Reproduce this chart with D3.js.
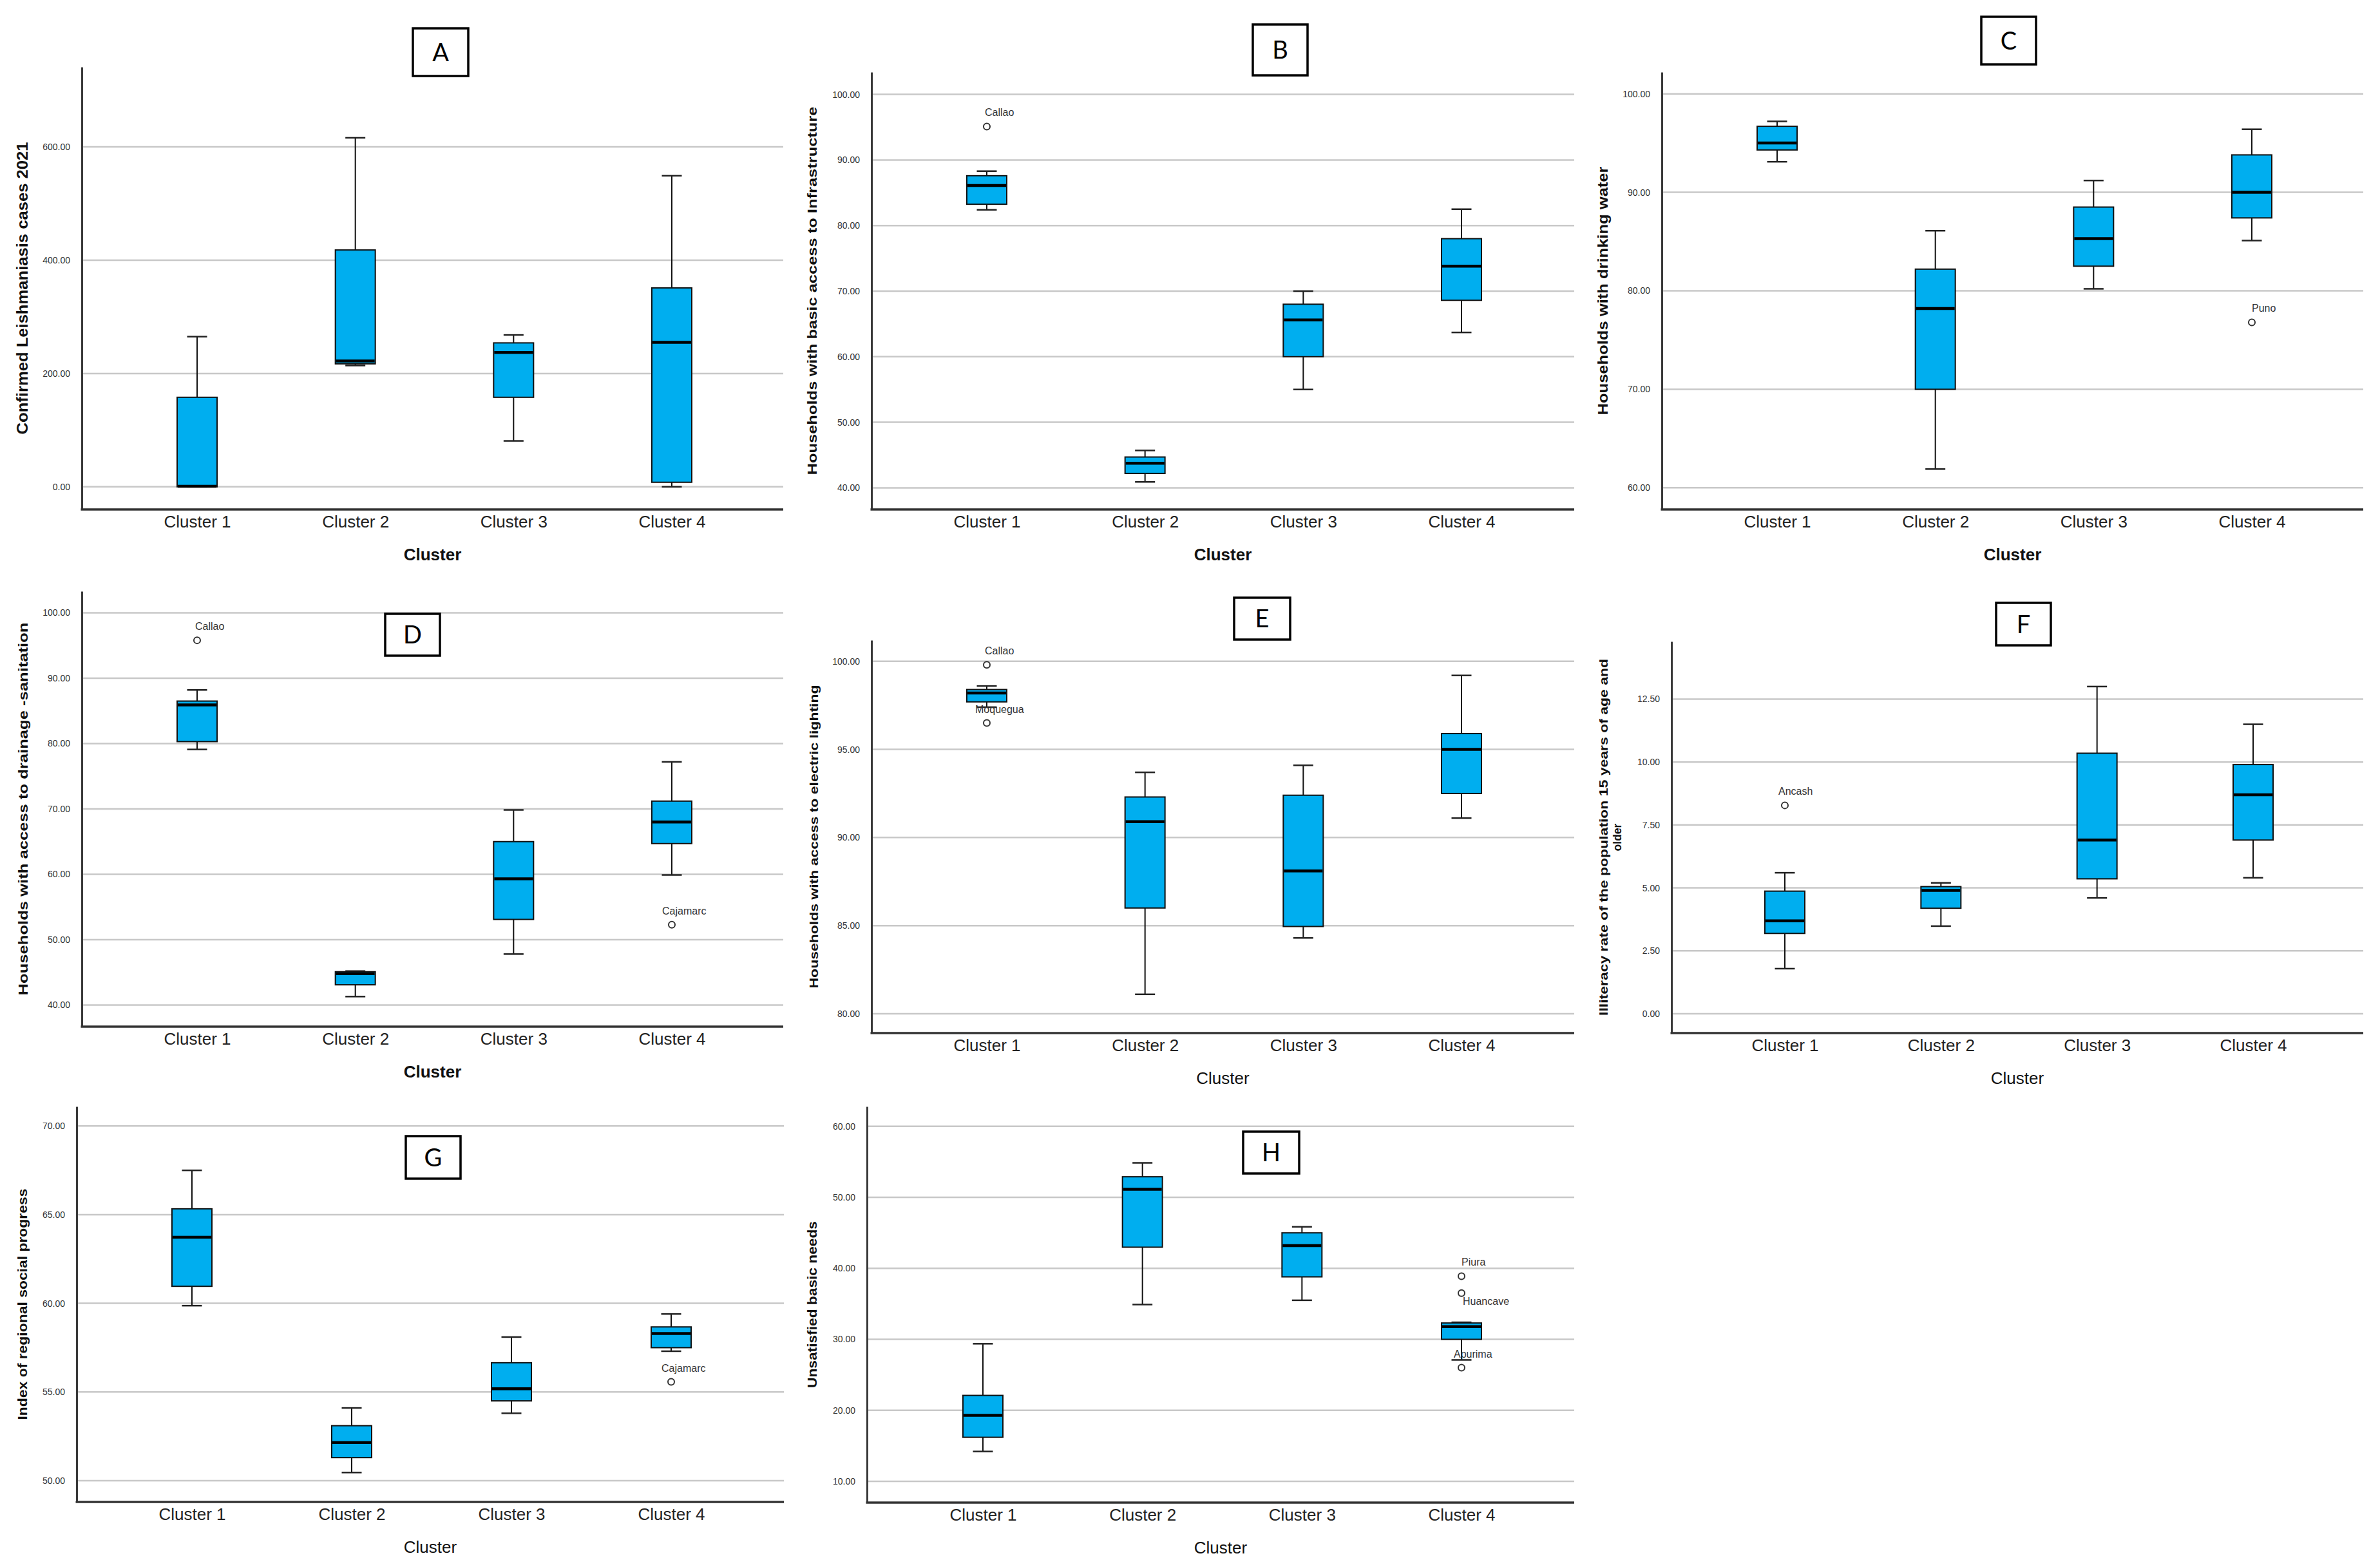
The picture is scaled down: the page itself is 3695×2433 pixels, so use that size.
<!DOCTYPE html>
<html>
<head>
<meta charset="utf-8">
<script src="https://cdn.jsdelivr.net/npm/d3@7"></script>
<style>
  body { margin: 0; background: #fff; }
</style>
</head>
<body>
<div id="chart"></div>
<script>
/**********************************************************************/
// DATA:
/**********************************************************************/

const clusters = ["Cluster 1", "Cluster 2", "Cluster 3", "Cluster 4"];
const panelIds = ["A", "B", "C", "D", "E", "F", "G", "H"];

const yTitles = [
    ["Confirmed Leishmaniasis cases 2021"],
    ["Households with basic access to Infrastructure"],
    ["Households with drinking water"],
    ["Households with access to drainage -sanitation"],
    ["Households with access to electric lighting"],
    ["Illiteracy rate of the population 15 years of age and", "older"],
    ["Index of regional social progress"],
    ["Unsatisfied basic needs"]
];

// tick values per panel
const ticksA = [0, 200, 400, 600];
const ticksB = [40, 50, 60, 70, 80, 90, 100];
const ticksC = [60, 70, 80, 90, 100];
const ticksD = [40, 50, 60, 70, 80, 90, 100];
const ticksE = [80, 85, 90, 95, 100];
const ticksF = [0, 2.5, 5, 7.5, 10, 12.5];
const ticksG = [50, 55, 60, 65, 70];
const ticksH = [10, 20, 30, 40, 50, 60];

// box stats per cluster: [min, q1, median, q3, max]
const statsA = [[0, 0, 1, 158, 265], [214, 217, 222, 418, 616], [81, 158, 237, 254, 268], [0, 8, 255, 351, 549]];
const statsB = [[82.4, 83.25, 86.1, 87.6, 88.3], [40.9, 42.2, 43.75, 44.7, 45.7], [55.0, 60.0, 65.6, 68.0, 70.0], [63.7, 68.6, 73.8, 78.0, 82.5]];
const statsC = [[93.1, 94.3, 95.0, 96.7, 97.2], [61.9, 70.0, 78.2, 82.2, 86.1], [80.2, 82.5, 85.3, 88.5, 91.2], [85.1, 87.4, 90.0, 93.8, 96.4]];
const statsD = [[79.1, 80.3, 85.9, 86.5, 88.2], [41.3, 43.1, 44.8, 45.1, 45.2], [47.8, 53.1, 59.3, 65.0, 69.85], [59.9, 64.7, 68.0, 71.2, 77.2]];
const statsE = [[97.4, 97.7, 98.2, 98.4, 98.6], [81.1, 86.0, 90.9, 92.3, 93.7], [84.3, 84.95, 88.1, 92.4, 94.1], [91.1, 92.5, 95.0, 95.9, 99.2]];
const statsF = [[1.79, 3.19, 3.69, 4.87, 5.6], [3.48, 4.19, 4.9, 5.05, 5.2], [4.6, 5.36, 6.9, 10.35, 13.0], [5.4, 6.9, 8.7, 9.9, 11.5]];
const statsG = [[59.87, 60.96, 63.73, 65.33, 67.5], [50.46, 51.3, 52.15, 53.1, 54.1], [53.8, 54.5, 55.18, 56.65, 58.1], [57.3, 57.5, 58.3, 58.67, 59.4]];
const statsH = [[14.2, 16.2, 19.3, 22.1, 29.38], [34.9, 42.98, 51.15, 52.9, 54.86], [35.5, 38.8, 43.2, 45.0, 45.85], [27.1, 30.0, 31.8, 32.3, 32.4]];

// outliers: [cluster index, value, label]
const outliersA = [];
const outliersB = [[0, 95.1, "Callao"]];
const outliersC = [[3, 76.8, "Puno"]];
const outliersD = [[0, 95.8, "Callao"], [3, 52.3, "Cajamarc"]];
const outliersE = [[0, 99.8, "Callao"], [0, 96.5, "Moquegua"]];
const outliersF = [[0, 8.28, "Ancash"]];
const outliersG = [[3, 55.57, "Cajamarc"]];
const outliersH = [[3, 38.9, "Piura"], [3, 36.5, "Huancave"], [3, 26.0, "Apurima"]];

const allTicks = [ticksA, ticksB, ticksC, ticksD, ticksE, ticksF, ticksG, ticksH];
const allStats = [statsA, statsB, statsC, statsD, statsE, statsF, statsG, statsH];
const allOutliers = [outliersA, outliersB, outliersC, outliersD, outliersE, outliersF, outliersG, outliersH];

/**********************************************************************/
// LAYOUT:
/**********************************************************************/

const svgWidth = 3695;
const svgHeight = 2433;

// x0/x1: axis extent, y0/y1: top / x-axis, cx: first & last cluster center
const layout = [
    {x0: 127,  x1: 1216, y0: 104,  y1: 791,  dom: [-40, 741],    cx: [306, 1043],  tx: [35],         fs: 23,   tl: 454, box: [641, 44, 86, 74],   bold: true},
    {x0: 1353, x1: 2444, y0: 112,  y1: 791,  dom: [36.7, 103.4], cx: [1532, 2269], tx: [1261],       fs: 21,   tl: 572, box: [1945, 38, 85, 79],  bold: true},
    {x0: 2580, x1: 3669, y0: 112,  y1: 791,  dom: [57.8, 102.2], cx: [2759, 3496], tx: [2488],       fs: 22,   tl: 386, box: [3076, 26, 85, 74],  bold: true},
    {x0: 127,  x1: 1216, y0: 918,  y1: 1594, dom: [36.7, 103.3], cx: [306, 1043],  tx: [36],         fs: 21,   tl: 579, box: [598, 953, 85, 65],  bold: true},
    {x0: 1353, x1: 2444, y0: 994,  y1: 1604, dom: [78.9, 101.2], cx: [1532, 2269], tx: [1263],       fs: 19,   tl: 471, box: [1916, 928, 87, 65], bold: false},
    {x0: 2595, x1: 3669, y0: 996,  y1: 1604, dom: [-0.77, 14.79], cx: [2771, 3498], tx: [2490, 2511], fs: 17.5, tl: 554, box: [3099, 936, 85, 66], bold: false},
    {x0: 119,  x1: 1217, y0: 1718, y1: 2332, dom: [48.8, 71.1],  cx: [298, 1042],  tx: [35],         fs: 19.5, tl: 359, box: [630, 1764, 85, 66], bold: false},
    {x0: 1346, x1: 2444, y0: 1718, y1: 2333, dom: [7.0, 62.8],   cx: [1526, 2269], tx: [1261],       fs: 19.5, tl: 259, box: [1930, 1757, 87, 65], bold: false}
];

// outlier label offsets (dx, dy) from point
const labelOffset = {
    "Callao": [-3, -16], "Puno": [0, -16], "Cajamarc": [-15, -16], "Moquegua": [-18, -16],
    "Ancash": [-10, -16], "Piura": [0, -16], "Huancave": [2, 18], "Apurima": [-12, -16]
};

const boxFill = "#00aeef";
const boxWidth = 62;
const capWidth = 31;
const narrow = "'Liberation Sans Narrow', 'Arial Narrow', 'Liberation Sans', Arial, sans-serif";

/**********************************************************************/
// DRAW:
/**********************************************************************/

let svg = d3.select('#chart')
            .append('svg')
            .attr('width', svgWidth)
            .attr('height', svgHeight)
            .style('background', '#fff');

panelIds.forEach(function(id, i) {
    const L = layout[i];
    const g = svg.append('g').attr('class', 'panel-' + id);

    let yScale = d3.scaleLinear().domain(L.dom).range([L.y1, L.y0]);
    let xScale = d3.scalePoint().domain(clusters).range(L.cx);

    // gridlines
    g.selectAll('line.grid')
     .data(allTicks[i])
     .join('line')
     .attr('class', 'grid')
     .attr('x1', L.x0).attr('x2', L.x1)
     .attr('y1', d => yScale(d)).attr('y2', d => yScale(d))
     .attr('stroke', '#c8c8c8')
     .attr('stroke-width', 2.5);

    // y axis
    let leftAxis = d3.axisLeft(yScale)
                     .tickValues(allTicks[i])
                     .tickFormat(d3.format('.2f'))
                     .tickSize(0)
                     .tickSizeOuter(0)
                     .tickPadding(18);
    let yAxis = g.append('g')
                 .attr('transform', `translate(${L.x0}, 0)`)
                 .call(leftAxis);
    yAxis.select('.domain').attr('stroke', '#3a3a3a').attr('stroke-width', 3);
    yAxis.selectAll('text')
         .attr('font-family', narrow)
         .attr('font-size', 14)
         .attr('fill', '#333');

    // x axis
    let bottomAxis = d3.axisBottom(xScale).tickSize(0).tickSizeOuter(0).tickPadding(10);
    let xAxis = g.append('g')
                 .attr('transform', `translate(0, ${L.y1})`)
                 .call(bottomAxis);
    xAxis.select('.domain').remove();
    xAxis.append('line')
         .attr('x1', L.x0 - 1.5).attr('x2', L.x1)
         .attr('stroke', '#333').attr('stroke-width', 3.5);
    xAxis.selectAll('text')
         .attr('font-family', narrow)
         .attr('font-size', 26)
         .attr('fill', '#222');

    // x title
    g.append('text')
     .attr('x', (L.x0 + L.x1) / 2)
     .attr('y', L.y1 + 79)
     .attr('text-anchor', 'middle')
     .attr('font-family', narrow)
     .attr('font-size', 26)
     .attr('font-weight', L.bold ? 'bold' : 'normal')
     .attr('fill', '#111')
     .text('Cluster');

    // y title
    const cy = (L.y0 + L.y1) / 2;
    yTitles[i].forEach(function(line, k) {
        let t = g.append('text')
                 .attr('transform', `translate(${L.tx[k]}, ${cy}) rotate(-90)`)
                 .attr('dy', '0.35em')
                 .attr('text-anchor', 'middle')
                 .attr('font-family', "'Liberation Sans', Arial, sans-serif")
                 .attr('font-size', L.fs)
                 .attr('font-weight', 'bold')
                 .attr('fill', '#111')
                 .text(line);
        if (k === 0) t.attr('textLength', L.tl).attr('lengthAdjust', 'spacingAndGlyphs');
    });

    // boxes
    const stats = allStats[i].map((s, c) => ({cluster: clusters[c], s: s}));
    let bx = g.selectAll('g.box').data(stats).join('g').attr('class', 'box');

    bx.append('line')
      .attr('x1', d => xScale(d.cluster)).attr('x2', d => xScale(d.cluster))
      .attr('y1', d => yScale(d.s[4])).attr('y2', d => yScale(d.s[3]))
      .attr('stroke', '#111').attr('stroke-width', 2);
    bx.append('line')
      .attr('x1', d => xScale(d.cluster)).attr('x2', d => xScale(d.cluster))
      .attr('y1', d => yScale(d.s[1])).attr('y2', d => yScale(d.s[0]))
      .attr('stroke', '#111').attr('stroke-width', 2);
    [0, 4].forEach(function(j) {
        bx.append('line')
          .attr('x1', d => xScale(d.cluster) - capWidth / 2)
          .attr('x2', d => xScale(d.cluster) + capWidth / 2)
          .attr('y1', d => yScale(d.s[j])).attr('y2', d => yScale(d.s[j]))
          .attr('stroke', '#222').attr('stroke-width', 2.5);
    });
    bx.append('rect')
      .attr('x', d => xScale(d.cluster) - boxWidth / 2)
      .attr('width', boxWidth)
      .attr('y', d => yScale(d.s[3]))
      .attr('height', d => Math.max(1, yScale(d.s[1]) - yScale(d.s[3])))
      .attr('fill', boxFill)
      .attr('stroke', '#111')
      .attr('stroke-width', 2);
    bx.append('line')
      .attr('x1', d => xScale(d.cluster) - boxWidth / 2 + 1)
      .attr('x2', d => xScale(d.cluster) + boxWidth / 2 - 1)
      .attr('y1', d => yScale(d.s[2])).attr('y2', d => yScale(d.s[2]))
      .attr('stroke', '#000').attr('stroke-width', 4.5);

    // outliers
    const outs = allOutliers[i];
    g.selectAll('circle.out')
     .data(outs)
     .join('circle')
     .attr('class', 'out')
     .attr('cx', d => xScale(clusters[d[0]]))
     .attr('cy', d => yScale(d[1]))
     .attr('r', 5)
     .attr('fill', '#fff')
     .attr('stroke', '#333')
     .attr('stroke-width', 2);
    g.selectAll('text.out')
     .data(outs)
     .join('text')
     .attr('class', 'out')
     .attr('x', d => xScale(clusters[d[0]]) + labelOffset[d[2]][0])
     .attr('y', d => yScale(d[1]) + labelOffset[d[2]][1])
     .attr('font-family', narrow)
     .attr('font-size', 16)
     .attr('fill', '#333')
     .text(d => d[2]);

    // panel letter
    const b = L.box;
    g.append('rect')
     .attr('x', b[0]).attr('y', b[1]).attr('width', b[2]).attr('height', b[3])
     .attr('fill', '#fff')
     .attr('stroke', '#000')
     .attr('stroke-width', 3.5);
    g.append('text')
     .attr('x', b[0] + b[2] / 2)
     .attr('y', b[1] + b[3] / 2)
     .attr('dy', '0.36em')
     .attr('text-anchor', 'middle')
     .attr('font-family', "Lato, 'Open Sans', sans-serif")
     .attr('font-size', 38)
     .attr('fill', '#000')
     .text(id);
});
</script>
</body>
</html>
